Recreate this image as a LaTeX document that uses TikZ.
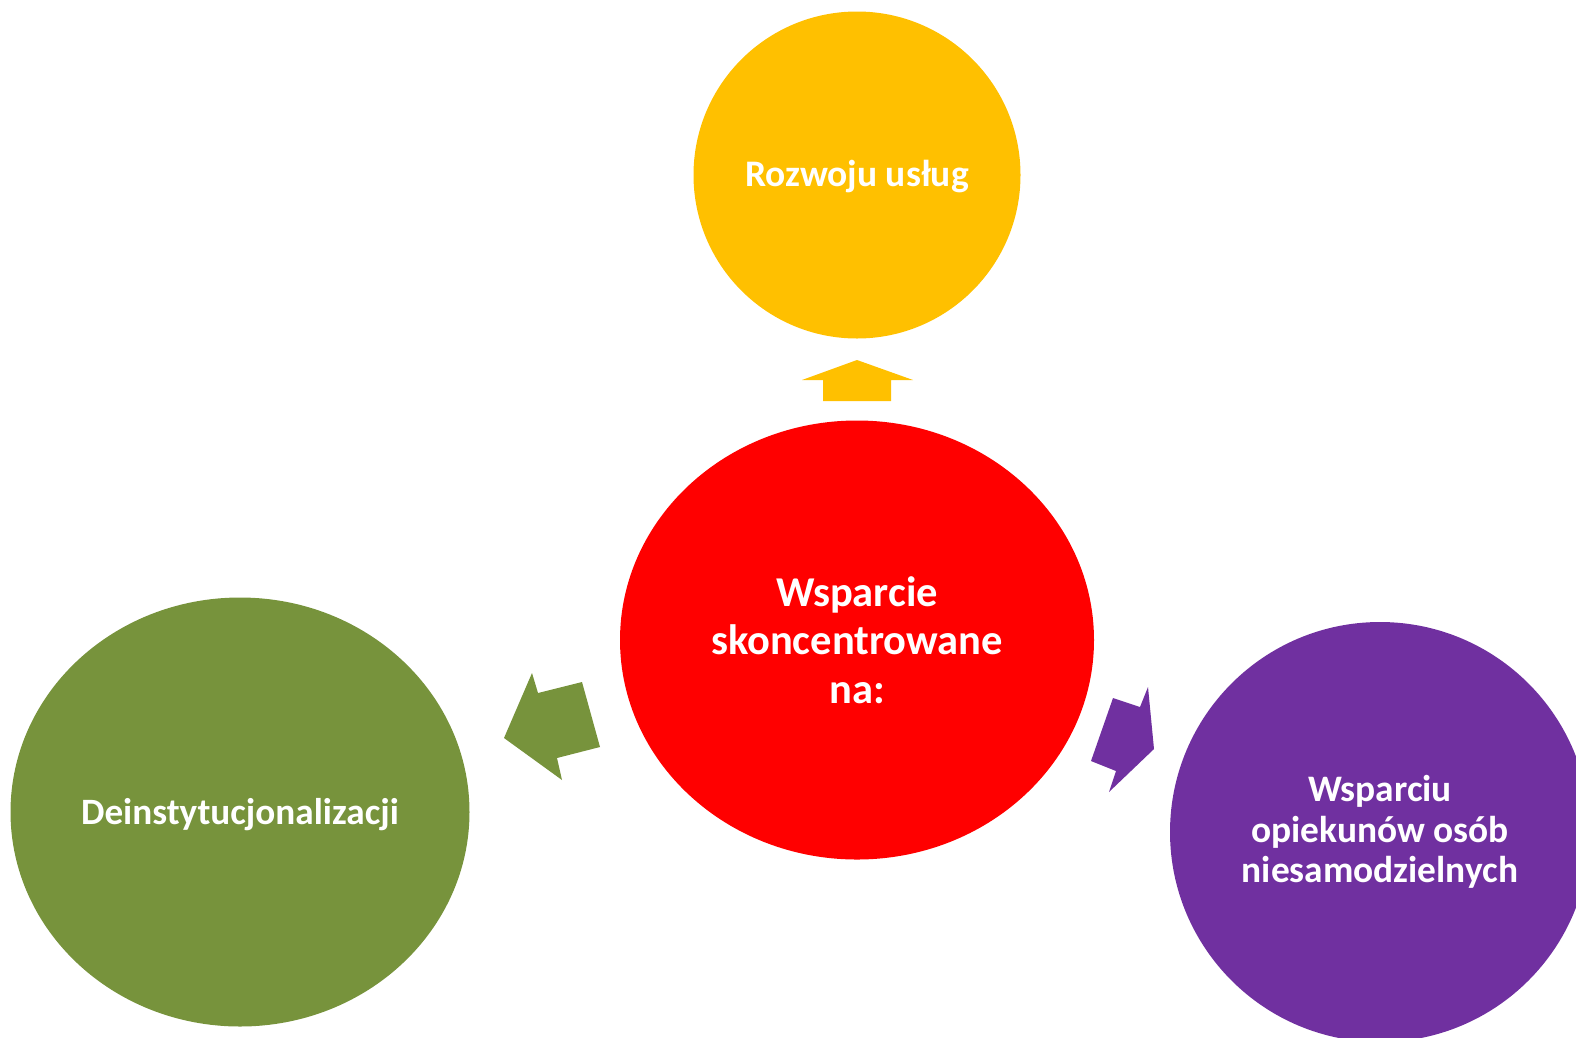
\documentclass[tikz,border=0pt]{standalone}
\usepackage{fontspec}
\setmainfont{Carlito}
\usetikzlibrary{shapes.geometric}
\definecolor{cyel}{HTML}{FFC000}
\definecolor{cred}{HTML}{FF0000}
\definecolor{cgrn}{HTML}{77933C}
\definecolor{cpur}{HTML}{7030A0}
\tikzset{
  blob/.style 2 args={ellipse, inner sep=0pt, text=white, align=center, font=\bfseries\fontsize{#1}{#2}\selectfont},
}
\begin{document}
\begin{tikzpicture}[x=1pt,y=-1pt]
\useasboundingbox (0,0) rectangle (1576,1037);
\clip (0,0) rectangle (1576,1037);
\node[blob={37.5}{45}, fill=cyel, minimum width=327pt, minimum height=327pt] (top) at (857,175) {};
\node[blob={37.5}{45}] at (857,177) {Rozwoju usług};
\node[blob={42.5}{48.3}, fill=cred, minimum width=474pt, minimum height=439pt] (mid) at (857,640) {Wsparcie\\skoncentrowane\\na:};
\node[blob={37.2}{45}, fill=cgrn, minimum width=459pt, minimum height=429pt] (left) at (240,812) {};
\node[blob={37.2}{45}] at (240,815) {Deinstytucjonalizacji};
\node[blob={37.4}{40.2}, fill=cpur, minimum width=420pt, minimum height=420pt] (right) at (1380,832) {Wsparciu\\opiekunów osób\\niesamodzielnych};
% block arrows
\fill[cyel] (823,401) -- (823,380) -- (802,380) -- (857,360) -- (913,380) -- (891,380) -- (891,401) -- cycle;
\fill[cgrn] (582,682) -- (538,693) -- (532,673) -- (504,738) -- (562,780) -- (557,758) -- (600,747) -- cycle;
\fill[cpur] (1113,698) -- (1140,707) -- (1148,687) -- (1154,749) -- (1109,792) -- (1116,771) -- (1091,761) -- cycle;
\end{tikzpicture}
\end{document}
